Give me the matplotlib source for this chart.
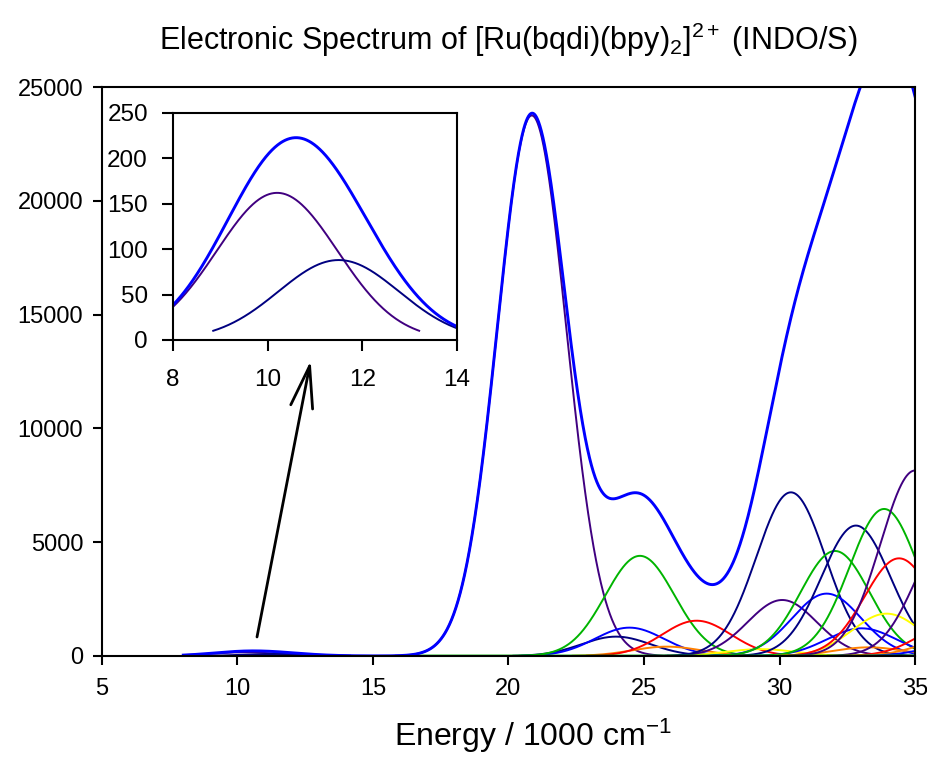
import numpy as np
import matplotlib.pyplot as plt

plt.rcParams['font.family'] = ['Liberation Sans', 'DejaVu Sans']
plt.rcParams['mathtext.fontset'] = 'custom'
plt.rcParams['mathtext.rm'] = 'Liberation Sans'
plt.rcParams['mathtext.it'] = 'Liberation Sans:italic'

PURPLE = '#400080'
NAVY = '#000080'
BLUE = '#0000FF'
GREEN = '#00B400'
RED = '#FF0000'
ORANGE = '#FF8000'
YELLOW = '#FFFF00'

# INDO/S transitions: band centre (1000 cm-1), peak epsilon, colour
band_centres = [10.2, 11.5,
                20.86, 23.97, 24.46, 24.85, 25.84, 26.94, 29.3,
                30.1, 30.42, 31.74, 32.05, 32.82, 33.03, 33.3,
                33.86, 33.95, 34.41, 35.0, 36.3, 36.4, 36.5, 36.8]
band_heights = [162, 88,
                23750, 850, 1245, 4400, 410, 1550, 300,
                2460, 7190, 2740, 4613, 5730, 1215, 380,
                6460, 1860, 4290, 8150, 5500, 1400, 800, 600]
band_colours = [PURPLE, NAVY,
                PURPLE, NAVY, BLUE, GREEN, ORANGE, RED, YELLOW,
                PURPLE, NAVY, BLUE, GREEN, NAVY, BLUE, ORANGE,
                GREEN, YELLOW, RED, PURPLE, PURPLE, RED, ORANGE, BLUE]
band_fwhm = 3.0          # 1000 cm-1, same for every transition
cutoff = 10              # component curves are not drawn below this

energy = np.arange(8.0, 37.0, 0.01)
sigma = band_fwhm / (2 * np.sqrt(2 * np.log(2)))


def gaussian(x, centre, height):
    return height * np.exp(-(x - centre) ** 2 / (2 * sigma ** 2))


components = [gaussian(energy, c, h) for c, h in zip(band_centres, band_heights)]
total = np.sum(components, axis=0)

fig = plt.figure(figsize=(9.28, 7.58), dpi=100)
ax = fig.add_axes([0.1099, 0.1346, 0.8761, 0.7506])

for comp, col in zip(components, band_colours):
    ax.plot(energy, np.where(comp >= cutoff, comp, np.nan), color=col, lw=1.4)
zero = np.where(energy >= 16.5, 0.0, np.nan)
ax.plot(energy, zero, color=GREEN, lw=2.0)
ax.plot(energy, total, color=BLUE, lw=2.1)

ax.set_xlim(5, 35)
ax.set_ylim(0, 25000)
ax.set_xticks(np.arange(5, 36, 5))
ax.set_yticks(np.arange(0, 25001, 5000))
ax.tick_params(direction='out', length=6.5, width=1.5, labelsize=17)
ax.tick_params(axis='x', pad=9)
ax.tick_params(axis='y', pad=7)
for sp in ax.spines.values():
    sp.set_linewidth(1.5)

ax.set_title('Electronic Spectrum of [Ru(bqdi)(bpy)$_2$]$^{2+}$ (INDO/S)',
             fontsize=22, pad=27)
ax.set_xlabel('Energy / 1000 cm$^{-1}$', fontsize=23)
ax.xaxis.set_label_coords(0.53, -0.106)

# arrow pointing from the weak low-energy band up to the inset
ax.annotate('', xy=(12.70, 12975), xytext=(10.72, 835),
            arrowprops=dict(arrowstyle='->,head_length=3.0,head_width=0.8',
                            lw=2.0, color='black', mutation_scale=10,
                            shrinkA=0, shrinkB=0))

# inset: the weak bands near 10000 cm-1
ins = fig.add_axes([0.1864, 0.5515, 0.3061, 0.2995])
for comp, col, c in zip(components, band_colours, band_centres):
    if c < 15:
        ins.plot(energy, np.where(comp >= cutoff, comp, np.nan), color=col, lw=1.4)
ins.plot(energy, total, color=BLUE, lw=2.1)
ins.set_xlim(8, 14)
ins.set_ylim(0, 250)
ins.set_xticks([8, 10, 12, 14])
ins.set_yticks(np.arange(0, 251, 50))
ins.tick_params(direction='out', length=8, width=1.5, labelsize=17.5)
ins.tick_params(axis='x', pad=13)
ins.tick_params(axis='y', pad=10)
for sp in ins.spines.values():
    sp.set_linewidth(1.5)

fig.savefig('out.png', dpi=100)
